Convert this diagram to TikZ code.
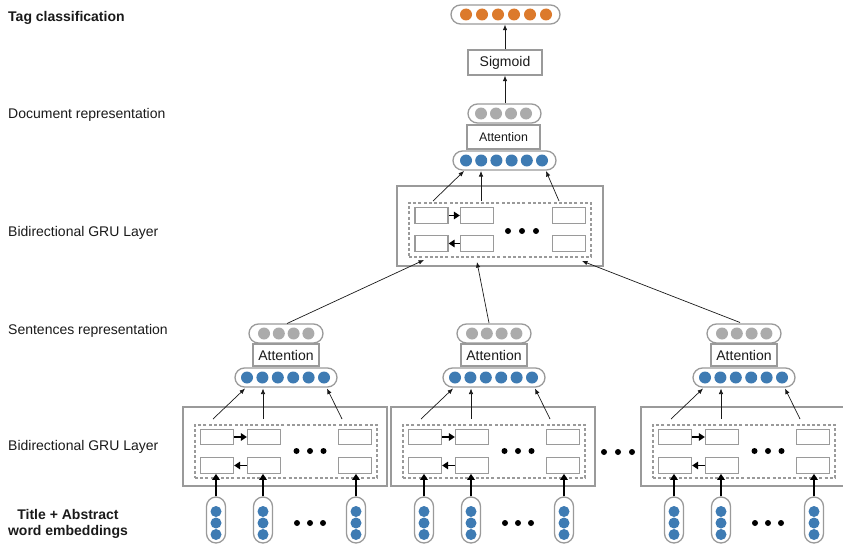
\documentclass[tikz,border=0pt]{standalone}
\usepackage{fontspec}
\setmainfont{Liberation Sans}
\usetikzlibrary{arrows.meta}
\definecolor{edgegray}{HTML}{9A9A9A}
\definecolor{nnblue}{HTML}{3E7BB3}
\definecolor{nnorange}{HTML}{DC7A2C}
\definecolor{nngray}{HTML}{ABABAB}
\definecolor{inkc}{HTML}{1A1A1A}
\tikzset{
  box/.style={draw=edgegray, line width=1.3pt, inner sep=0pt, fill=white, text=inkc},
  outerbox/.style={draw=edgegray, line width=1.3pt, inner sep=0pt},
  dashbox/.style={draw=edgegray, line width=1.1pt, dash pattern=on 3pt off 2.2pt, inner sep=0pt},
  cell/.style={box, minimum width=33pt, minimum height=15.5pt},
  vec/.style={draw=edgegray, line width=1.3pt, inner sep=0pt, rounded corners=9.5pt},
  vpill/.style={vec, minimum width=19pt, minimum height=46pt},
  hvec/.style={vec, minimum height=19pt},
  bdot/.style={circle, fill=nnblue, inner sep=0pt, minimum size=12pt},
  pdot/.style={circle, fill=nnblue, inner sep=0pt, minimum size=11pt},
  odot/.style={circle, fill=nnorange, inner sep=0pt, minimum size=12pt},
  gdot/.style={circle, fill=nngray, inner sep=0pt, minimum size=12pt},
  kdot/.style={circle, fill=black, inner sep=0pt, minimum size=6pt},
  arr/.style={draw=inkc, line width=0.7pt, -{Latex[length=5.5pt,width=4.5pt]}},
  tharr/.style={draw=black, line width=1.5pt, -{Triangle[length=6pt,width=7.5pt]}},
  lbl/.style={anchor=west, inner sep=0pt, text=inkc, font=\fontsize{14}{16}\selectfont},
  big/.style={font=\fontsize{14}{16}\selectfont},
}
\newcommand\sentgroup[2]{%
\begin{scope}[xshift=#2pt]
  \node[outerbox, minimum width=204pt, minimum height=79pt] (o#1) at (285,446.5) {};
  \node[dashbox, minimum width=182pt, minimum height=53pt] (d#1) at (286,451.5) {};
  \node[cell] (a#1) at (217,437) {};
  \node[cell] (b#1) at (264,437) {};
  \node[cell] (c#1) at (355,437) {};
  \node[cell] (e#1) at (217,465.5) {};
  \node[cell] (f#1) at (264,465.5) {};
  \node[cell] (h#1) at (355,465.5) {};
  \draw[tharr] (a#1) -- (b#1);
  \draw[tharr] (f#1) -- (e#1);
  \node[kdot] (k#1a) at (296.5,451) {};
  \node[kdot] (k#1b) at (310,451) {};
  \node[kdot] (k#1c) at (323.5,451) {};
  % sentence vectors
  \node[hvec, minimum width=102pt] (bv#1) at (286,377.5) {};
  \foreach \k in {0,...,5} \node[bdot] (bv#1c\k) at (247+15.4*\k,377.5) {};
  \node[box, big, minimum width=66pt, minimum height=22pt] (att#1) at (286,355) {Attention};
  \node[hvec, minimum width=74pt] (gv#1) at (286,333.5) {};
  \foreach \k in {0,...,3} \node[gdot] (gv#1c\k) at (264+14.8*\k,333.5) {};
  \coordinate (sa#1) at (213,419);
  \coordinate (sb#1) at (263,419);
  \coordinate (sc#1) at (342,419);
  \coordinate (ta#1) at (245,388.5);
  \coordinate (tb#1) at (263,388.5);
  \coordinate (tc#1) at (327,388.5);
  \draw[arr] (sa#1) -- (ta#1);
  \draw[arr] (sb#1) -- (tb#1);
  \draw[arr] (sc#1) -- (tc#1);
  % word embeddings
  \node[vpill] (p#1a) at (216,520) {};
  \node[vpill] (p#1b) at (263,520) {};
  \node[vpill] (p#1c) at (356,520) {};
  \foreach \pp in {a,b,c}{
    \foreach \yy/\q in {511.5/1,523/2,534.5/3}
      \node[pdot] (p#1\pp\q) at (p#1\pp.center |- 0,\yy) {};
  }
  \draw[tharr] (p#1a.north) -- (p#1a.north |- e#1.south);
  \draw[tharr] (p#1b.north) -- (p#1b.north |- f#1.south);
  \draw[tharr] (p#1c.north) -- (p#1c.north |- h#1.south);
  \node[kdot] (w#1a) at (297,523) {};
  \node[kdot] (w#1b) at (310,523) {};
  \node[kdot] (w#1c) at (323,523) {};
\end{scope}}
\begin{document}
\begin{tikzpicture}[x=1pt,y=-1pt]
\useasboundingbox (0,0) rectangle (843,551);
% left labels
\node[lbl, font=\fontsize{14}{16}\selectfont\bfseries] (l1) at (8,18) {Tag classification};
\node[lbl] (l2) at (8,115) {Document representation};
\node[lbl] (l3) at (8,233) {Bidirectional GRU Layer};
\node[lbl] (l4) at (8,331) {Sentences representation};
\node[lbl] (l5) at (8,447) {Bidirectional GRU Layer};
\node[inner sep=0pt, align=center, text=inkc, font=\fontsize{14}{16}\selectfont\bfseries] (l6) at (68,524) {Title + Abstract\\word embeddings};

% sentence groups
\sentgroup{1}{0}
\sentgroup{2}{208}
\sentgroup{3}{458}
\node[kdot] (m1) at (604,452) {};
\node[kdot] (m2) at (618,452) {};
\node[kdot] (m3) at (632,452) {};

% document-level BiGRU
\node[outerbox, minimum width=206pt, minimum height=80pt] (do) at (500,226) {};
\node[dashbox, minimum width=182pt, minimum height=54pt] (dd) at (500,230) {};
\node[cell] (da) at (431.5,215.5) {};
\node[cell] (db) at (477,215.5) {};
\node[cell] (dc) at (569,215.5) {};
\node[cell] (de) at (431.5,243.5) {};
\node[cell] (df) at (477,243.5) {};
\node[cell] (dh) at (569,243.5) {};
\draw[tharr] (da) -- (db);
\draw[tharr] (df) -- (de);
\node[kdot] (dk1) at (508,231) {};
\node[kdot] (dk2) at (522,231) {};
\node[kdot] (dk3) at (536,231) {};

% sentence vectors -> document BiGRU
\coordinate (sg1) at (287,323.5);
\coordinate (sg2) at (489,323);
\coordinate (sg3) at (740,322.5);
\coordinate (dg1) at (424,260);
\coordinate (dg2) at (477,262);
\coordinate (dg3) at (582,261);
\draw[arr] (sg1) -- (dg1);
\draw[arr] (sg2) -- (dg2);
\draw[arr] (sg3) -- (dg3);

% document vectors
\node[hvec, minimum width=103pt] (dbv) at (504.5,160.5) {};
\foreach \k in {0,...,5} \node[bdot] (dbv\k) at (466+15.2*\k,160.5) {};
\node[box, minimum width=73pt, minimum height=24pt, font=\fontsize{12.4}{14}\selectfont] (datt) at (503.5,137) {Attention};
\node[hvec, minimum width=73pt] (dgv) at (504.5,113.5) {};
\foreach \k in {0,...,3} \node[gdot] (dgv\k) at (481+15*\k,113.5) {};
\coordinate (ds1) at (433,201);
\coordinate (ds2) at (481,201);
\coordinate (ds3) at (559,201);
\coordinate (dt1) at (464,171);
\coordinate (dt2) at (481,171);
\coordinate (dt3) at (546,171);
\draw[arr] (ds1) -- (dt1);
\draw[arr] (ds2) -- (dt2);
\draw[arr] (ds3) -- (dt3);

% sigmoid and output
\node[box, big, minimum width=74pt, minimum height=25pt] (sig) at (505,62.5) {Sigmoid};
\node[hvec, minimum width=109pt] (out) at (505.5,14.5) {};
\foreach \k in {0,...,5} \node[odot] (out\k) at (466+16*\k,14.5) {};
\draw[arr] (dgv.north -| sig.south) -- (sig.south);
\draw[arr] (sig.north) -- (sig.north |- out.south);
\end{tikzpicture}
\end{document}
